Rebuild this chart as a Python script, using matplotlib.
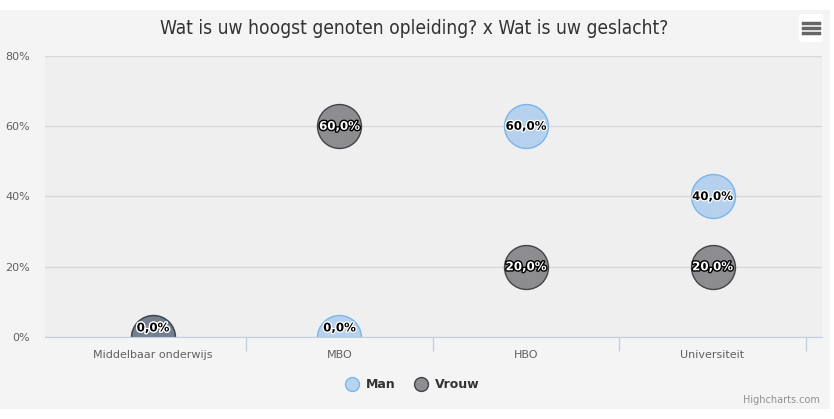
import numpy as np
import matplotlib
matplotlib.use("Agg")
import matplotlib.pyplot as plt
import matplotlib.patheffects as pe
from matplotlib.patches import Rectangle, FancyBboxPatch, Polygon

categories = ["Middelbaar onderwijs", "MBO", "HBO", "Universiteit"]
man = [0, 0, 60, 40]
vrouw = [0, 60, 20, 20]
yticks = [0, 20, 40, 60, 80]

W, H = 834, 419
fig = plt.figure(figsize=(W / 100, H / 100), dpi=100)
fig.patch.set_facecolor("white")
# chart background
fig.patches.append(Rectangle((0, 10 / H), 830 / W, 399 / H, transform=fig.transFigure,
                             facecolor="#f4f4f4", edgecolor="none", zorder=-5))

ax = fig.add_axes([45 / W, (H - 337) / H, (822 - 45) / W, (337 - 56) / H])
ax.set_zorder(2)
ax.set_facecolor("#efefef")
x = np.arange(len(categories))

s = 1000
man_fc = (124 / 255, 181 / 255, 236 / 255, 0.5)
vrouw_fc = (67 / 255, 67 / 255, 72 / 255, 0.57)
sc1 = ax.scatter(x, man, s=s, facecolor=man_fc, edgecolor="#7cb5ec", linewidth=1, zorder=3)
sc2 = ax.scatter(x, vrouw, s=s, facecolor=vrouw_fc, edgecolor="#434348", linewidth=1, zorder=3)
# bubbles are cut off by the plot area like in highcharts
clip = Polygon([[0, 0], [1, 0], [1, 1], [0, 1]], closed=True, transform=ax.transAxes)
for sc in (sc1, sc2):
    sc.set_clip_path(clip)

light_fx = [pe.withStroke(linewidth=1.8, foreground="white")]
dark_fx = [pe.withStroke(linewidth=2.0, foreground="black")]
for xi, m, v in zip(x, man, vrouw):
    for val, dark in ((m, False), (v, True)):
        yy = val if val > 0 else 2.6
        on_dark = dark and val > 0
        ax.text(xi, yy, ("%.1f" % val).replace(".", ",") + "%",
                ha="center", va="center", fontsize=8.5, fontweight="bold",
                color="white" if on_dark else "black",
                path_effects=dark_fx if on_dark else light_fx, zorder=5)

ax.set_xlim(-0.579, 3.587)
ax.set_ylim(0, 80)
ax.set_yticks(yticks)
ax.set_yticklabels([f"{t}%" for t in yticks])
ax.yaxis.grid(True, color="#d8d8d8", linewidth=1)
ax.set_axisbelow(True)
ax.tick_params(axis="y", length=0, pad=11, labelsize=8, labelcolor="#606060")

ax.set_xticks(x)
ax.set_xticklabels(categories)
ax.set_xticks([0.5, 1.5, 2.5, 3.5], minor=True)
ax.tick_params(axis="x", which="major", length=0, pad=9, labelsize=8, labelcolor="#606060")
ax.tick_params(axis="x", which="minor", length=10, color="#c0d0e0", width=1)
for sp in ["top", "right", "left"]:
    ax.spines[sp].set_visible(False)
ax.spines["bottom"].set_color("#c0d0e0")
ax.spines["bottom"].set_zorder(4)

fig.text(414 / W, 1 - 28 / H, "Wat is uw hoogst genoten opleiding? x Wat is uw geslacht?",
         ha="center", va="center", fontsize=13.8, color="#333333",
         family="DejaVu Sans", fontstretch="condensed")

# legend
ly = 1 - 384 / H
for cx, label, fc, ec in [(352, "Man", man_fc, "#7cb5ec"),
                          (421, "Vrouw", vrouw_fc, "#434348")]:
    fig.add_artist(plt.Line2D([cx / W], [ly], marker="o", markersize=10,
                              markerfacecolor=fc, markeredgecolor=ec, transform=fig.transFigure))
    fig.text((cx + 14) / W, ly, label, ha="left", va="center", fontsize=9,
             fontweight="bold", color="#333333")

fig.text(820 / W, 1 - 400 / H, "Highcharts.com", ha="right", va="center",
         fontsize=7, color="#909090")

# menu button
fig.patches.append(FancyBboxPatch((799 / W, 1 - 42 / H), 24 / W, 28 / H,
                                  boxstyle="round,pad=0,rounding_size=0.003",
                                  transform=fig.transFigure, facecolor="white",
                                  edgecolor="none", zorder=1))
for yy in (23, 28, 33):
    fig.add_artist(plt.Line2D([803 / W, 819 / W], [1 - yy / H] * 2, color="#666666",
                              linewidth=2.5, transform=fig.transFigure, zorder=2))

fig.savefig("out.png", dpi=100, facecolor=fig.get_facecolor())
